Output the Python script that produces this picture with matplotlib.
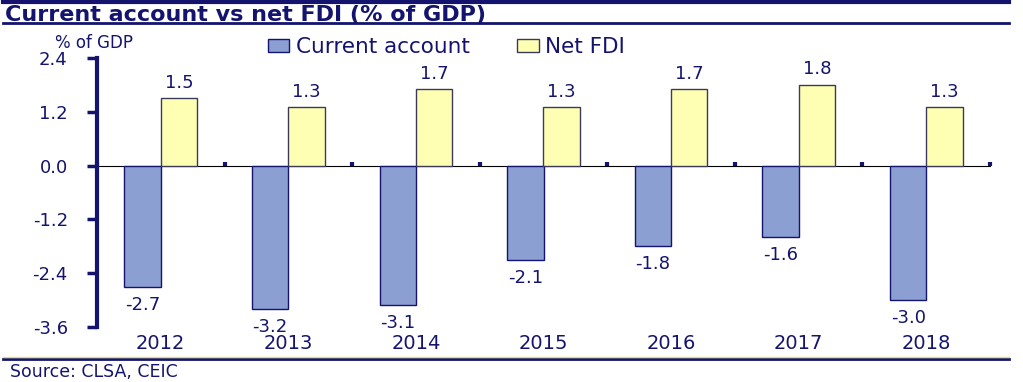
import matplotlib.pyplot as plt
from matplotlib.lines import Line2D
from matplotlib.patches import Patch
import numpy as np

years = ["2012", "2013", "2014", "2015", "2016", "2017", "2018"]
current_account = [-2.7, -3.2, -3.1, -2.1, -1.8, -1.6, -3.0]
net_fdi = [1.5, 1.3, 1.7, 1.3, 1.7, 1.8, 1.3]
yticks = [-3.6, -2.4, -1.2, 0.0, 1.2, 2.4]

navy = "#14146e"
ca_col = "#8c9fd2"
fdi_col = "#ffffb3"

fig = plt.figure(figsize=(10.23, 3.82), dpi=100)
ax = fig.add_axes([0.0948, 0.144, 0.873, 0.704])

x = np.arange(len(years))
w = 0.285
ax.bar(x - 0.142, current_account, w, color=ca_col, edgecolor=navy, linewidth=1)
ax.bar(x + 0.142, net_fdi, w, color=fdi_col, edgecolor="#3a3a5a", linewidth=1)

for i in range(len(years)):
    ax.text(x[i] - 0.142, current_account[i] - 0.2, f"{current_account[i]:.1f}",
            ha="center", va="top", color=navy, fontsize=13)
    ax.text(x[i] + 0.142, net_fdi[i] + 0.15, f"{net_fdi[i]:.1f}",
            ha="center", va="bottom", color=navy, fontsize=13)

ax.set_xlim(-0.5, 6.5)
ax.set_ylim(-3.6, 2.4)
ax.set_yticks(yticks)
ax.set_yticklabels([f"{v:.1f}" for v in yticks])
ax.tick_params(axis="y", colors=navy, labelsize=13, length=7, width=2.5, pad=14)
ax.set_xticks(x)
ax.set_xticklabels(years)
ax.tick_params(axis="x", colors=navy, labelsize=14, length=0, pad=5)

for s in ["top", "right", "bottom"]:
    ax.spines[s].set_visible(False)
ax.spines["left"].set_color(navy)
ax.spines["left"].set_linewidth(3)

# zero line with boundary ticks
sec = ax.secondary_xaxis(0.6)
sec.set_xticks(np.arange(-0.5, 6.6, 1.0))
sec.set_xticklabels([])
sec.tick_params(axis="x", colors=navy, length=3, width=3, direction="out")
sec.spines["bottom"].set_color(navy)
sec.spines["bottom"].set_linewidth(1.5)

fig.text(0.092, 0.888, "% of GDP", ha="center", va="center", color=navy, fontsize=12)

handles = [Patch(facecolor=ca_col, edgecolor=navy, label="Current account"),
           Patch(facecolor=fdi_col, edgecolor="#3a3a5a", label="Net FDI")]
fig.legend(handles=handles, loc="center left", bbox_to_anchor=(0.243, 0.877), ncol=2,
           frameon=False, fontsize=15.5, handlelength=1.0, handleheight=0.6,
           handletextpad=0.3, columnspacing=2.2, labelcolor=navy)

fig.text(0.005, 0.962, "Current account vs net FDI (% of GDP)", ha="left", va="center",
         color=navy, fontsize=16, fontweight="bold")
fig.add_artist(Line2D([0.003, 0.986], [0.995, 0.995], color=navy, lw=3))
fig.add_artist(Line2D([0.003, 0.986], [0.94, 0.94], color=navy, lw=2))
fig.add_artist(Line2D([0.003, 0.986], [0.06, 0.06], color=navy, lw=2))
fig.add_artist(Line2D([0.003, 0.986], [0.065, 0.065], color="#e8e060", lw=1))
fig.text(0.01, 0.025, "Source: CLSA, CEIC", ha="left", va="center", color=navy, fontsize=12.5)

fig.savefig("out.png", dpi=100)
